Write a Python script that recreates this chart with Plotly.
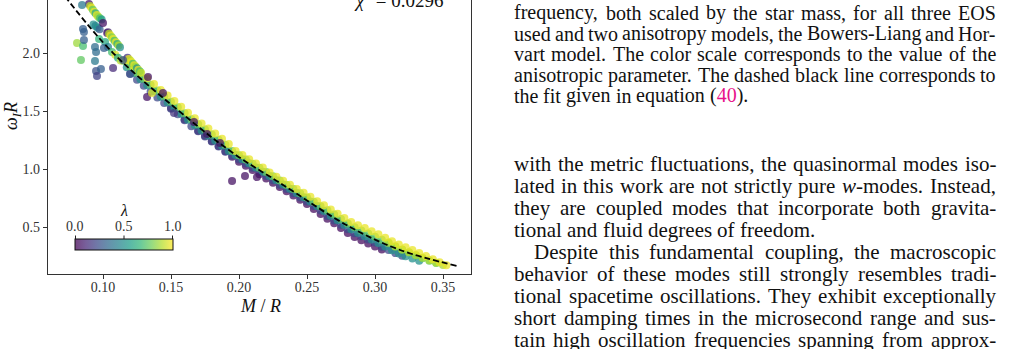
import plotly.graph_objects as go

# ------------------------------------------------------------------ data
# dashed fit line
fit_mr = [0.0720, 0.1074, 0.1640, 0.1956, 0.2301, 0.2816, 0.3184, 0.3603]
fit_om = [2.489, 2.000, 1.422, 1.138, 0.880, 0.500, 0.302, 0.164]

# band rows, grouped by anisotropy value
lam_purple = 0.03
mr_purple = [0.150, 0.160, 0.170, 0.175, 0.180, 0.185, 0.190, 0.195,
             0.200, 0.205, 0.210, 0.215, 0.220, 0.225, 0.230, 0.235, 0.240, 0.245, 0.250,
             0.255, 0.260, 0.265, 0.270, 0.275, 0.280, 0.285, 0.290, 0.295, 0.300, 0.305]
om_purple = [1.525, 1.426, 1.330, 1.286, 1.242, 1.198, 1.154, 1.105,
             1.063, 1.027, 0.991, 0.955, 0.919, 0.882, 0.845, 0.808, 0.772, 0.735, 0.699,
             0.655, 0.613, 0.572, 0.532, 0.491, 0.449, 0.414, 0.385, 0.358, 0.331, 0.306]

lam_blue = 0.22
mr_blue = [0.120, 0.125, 0.130, 0.135, 0.140, 0.145, 0.150, 0.155, 0.160, 0.165,
           0.170, 0.175, 0.180, 0.185, 0.190, 0.195, 0.200, 0.205, 0.210, 0.215,
           0.220, 0.225, 0.230, 0.235, 0.240, 0.245, 0.250, 0.255, 0.260, 0.265,
           0.270, 0.275, 0.280, 0.285, 0.290, 0.295, 0.300, 0.305, 0.310, 0.315, 0.320]
om_blue = [1.821, 1.769, 1.718, 1.667, 1.617, 1.568, 1.520, 1.473, 1.421, 1.369,
           1.325, 1.281, 1.237, 1.193, 1.149, 1.115, 1.083, 1.047, 1.011, 0.975,
           0.939, 0.902, 0.865, 0.828, 0.792, 0.755, 0.719, 0.682, 0.643, 0.595,
           0.557, 0.519, 0.480, 0.447, 0.420, 0.393, 0.366, 0.329, 0.302, 0.275, 0.252]

lam_teal = 0.50
mr_teal = [0.1175, 0.1225, 0.1275, 0.1325, 0.1375, 0.1425, 0.1475, 0.1525, 0.1575, 0.1625,
           0.1675, 0.1725, 0.1775, 0.1825, 0.1875, 0.1925, 0.1975, 0.2025, 0.2075, 0.2125,
           0.2175, 0.2225, 0.2275, 0.2325, 0.2375, 0.2425, 0.2475, 0.2525, 0.2575, 0.2625,
           0.2675, 0.2725, 0.2775, 0.2825, 0.2875, 0.2925, 0.2975, 0.3025, 0.3075, 0.3125,
           0.3175, 0.3225, 0.3275, 0.3325]
om_teal = [1.877, 1.825, 1.773, 1.722, 1.672, 1.622, 1.574, 1.526, 1.477, 1.425,
           1.377, 1.333, 1.289, 1.245, 1.201, 1.155, 1.121, 1.085, 1.049, 1.013,
           0.977, 0.940, 0.903, 0.866, 0.830, 0.793, 0.757, 0.720, 0.682, 0.639,
           0.598, 0.558, 0.518, 0.481, 0.450, 0.421, 0.392, 0.362, 0.332, 0.300,
           0.272, 0.248, 0.228, 0.208]

lam_green = 0.75
mr_green = [0.115, 0.120, 0.125, 0.130, 0.135, 0.140, 0.145, 0.150, 0.155, 0.160,
            0.165, 0.170, 0.175, 0.180, 0.185, 0.190, 0.195, 0.200, 0.205, 0.210,
            0.215, 0.220, 0.225, 0.230, 0.235, 0.240, 0.245, 0.250, 0.255, 0.260,
            0.265, 0.270, 0.275, 0.280, 0.285, 0.290, 0.295, 0.300, 0.305, 0.310,
            0.315, 0.320, 0.325, 0.330, 0.335, 0.340, 0.345]
om_green = [1.933, 1.881, 1.829, 1.778, 1.727, 1.677, 1.628, 1.580, 1.533, 1.481,
            1.429, 1.385, 1.341, 1.297, 1.253, 1.209, 1.155, 1.118, 1.082, 1.046,
            1.010, 0.974, 0.937, 0.900, 0.863, 0.827, 0.790, 0.754, 0.717, 0.678,
            0.645, 0.607, 0.569, 0.530, 0.497, 0.470, 0.443, 0.416, 0.389, 0.360,
            0.330, 0.303, 0.280, 0.255, 0.230, 0.208, 0.190]

lam_lime = 0.87
mr_lime = [0.310, 0.315, 0.320, 0.325, 0.330, 0.335, 0.340, 0.345, 0.350]
om_lime = [0.367, 0.335, 0.307, 0.283, 0.259, 0.235, 0.213, 0.192, 0.172]

lam_yellow = 0.97
mr_yellow = [0.1175, 0.1225, 0.1275, 0.1325, 0.1375, 0.1425, 0.1475, 0.1525, 0.1575, 0.1625,
             0.1675, 0.1725, 0.1775, 0.1825, 0.1875, 0.1925, 0.1975, 0.2025, 0.2075, 0.2125,
             0.2175, 0.2225, 0.2275, 0.2325, 0.2375, 0.2425, 0.2475, 0.2525, 0.2575, 0.2625,
             0.2675, 0.2725, 0.2775, 0.2825, 0.2875, 0.2925, 0.2975, 0.3025, 0.3075, 0.3125,
             0.3175, 0.3225, 0.3275, 0.3325, 0.3375, 0.3425, 0.3475, 0.3525]
om_yellow = [1.937, 1.885, 1.833, 1.782, 1.732, 1.682, 1.634, 1.586, 1.537, 1.485,
             1.437, 1.393, 1.349, 1.305, 1.261, 1.215, 1.156, 1.120, 1.084, 1.048,
             1.012, 0.970, 0.933, 0.899, 0.865, 0.828, 0.795, 0.760, 0.722, 0.687,
             0.651, 0.615, 0.578, 0.544, 0.516, 0.491, 0.464, 0.437, 0.408, 0.378,
             0.350, 0.326, 0.302, 0.275, 0.249, 0.222, 0.196, 0.170]

# upper-left streaks and scattered points: (M/R, omega_I R, lambda)
mr_extra = [0.0897, 0.0905, 0.0915, 0.0925, 0.0935, 0.0945, 0.0955, 0.0965, 0.0978, 0.0990,
            0.0930, 0.0945, 0.0960, 0.0975, 0.1000, 0.1030,
            0.1015, 0.1037, 0.1066, 0.1090, 0.1110, 0.1130,
            0.1037, 0.1045, 0.1055, 0.1065, 0.1075, 0.1085, 0.1095, 0.1105, 0.1115, 0.1125,
            0.1180, 0.1190, 0.1200, 0.1210, 0.1220, 0.1230, 0.1240, 0.1250, 0.1260, 0.1270, 0.1280,
            0.0846, 0.0853, 0.0860, 0.0809, 0.0853, 0.0838, 0.0860, 0.0941, 0.0949, 0.0941,
            0.0949, 0.0985, 0.0956, 0.1007, 0.1074, 0.0971,
            0.1147, 0.1199, 0.1331, 0.1324, 0.1441, 0.1669, 0.1765, 0.1860, 0.1522, 0.1360,
            0.1949, 0.2044, 0.2132]
om_extra = [2.422, 2.405, 2.390, 2.372, 2.356, 2.342, 2.327, 2.313, 2.300, 2.288,
            2.245, 2.232, 2.218, 2.205, 2.259, 2.172,
            2.095, 2.052, 2.009, 1.985, 1.960, 1.935,
            2.180, 2.165, 2.150, 2.135, 2.120, 2.106, 2.092, 2.078, 2.064, 2.050,
            1.960, 1.948, 1.936, 1.922, 1.908, 1.895, 1.882, 1.868, 1.855, 1.842, 1.830,
            2.414, 2.207, 2.181, 2.086, 2.060, 1.940, 2.112, 2.052, 2.009, 1.931,
            1.845, 1.862, 1.802, 2.043, 1.871, 2.121,
            1.940, 1.819, 1.793, 1.621, 1.655, 1.405, 1.302, 1.224, 1.483, 1.655,
            0.897, 0.940, 0.930]
lam_extra = [0.05, 0.90, 0.97, 0.75, 0.97, 0.60, 0.97, 0.85, 0.70, 0.55,
             0.50, 0.45, 0.50, 0.30, 0.05, 0.08,
             0.60, 0.45, 0.70, 0.95, 0.60, 0.90,
             0.10, 0.90, 0.97, 0.80, 0.97, 0.70, 0.97, 0.60, 0.90, 0.50,
             0.15, 0.97, 0.90, 0.97, 0.70, 0.97, 0.85, 0.50, 0.97, 0.70, 0.90,
             0.40, 0.30, 0.30, 0.85, 0.70, 0.75, 0.30, 0.35, 0.35, 0.40,
             0.25, 0.30, 0.20, 0.30, 0.12, 0.65,
             0.25, 0.25, 0.05, 0.05, 0.05, 0.05, 0.05, 0.05, 0.15, 0.95,
             0.05, 0.05, 0.05]

x_ticks = [0.10, 0.15, 0.20, 0.25, 0.30, 0.35]
x_tick_labels = ["0.10", "0.15", "0.20", "0.25", "0.30", "0.35"]
y_ticks = [0.5, 1.0, 1.5, 2.0]
y_tick_labels = ["0.5", "1.0", "1.5", "2.0"]
cbar_ticks = ["0.0", "0.5", "1.0"]
chi2_text = "0.0296"

caption_lines = [
    "frequency, both scaled by the star mass, for all three EOS",
    "used and two anisotropy models, the Bowers-Liang and Hor-",
    "vart model. The color scale corresponds to the value of the",
    "anisotropic parameter. The dashed black line corresponds to",
    "the fit given in equation (40).",
]
body_lines = [
    "with the metric fluctuations, the quasinormal modes iso-",
    "lated in this work are not strictly pure w-modes. Instead,",
    "they are coupled modes that incorporate both gravita-",
    "tional and fluid degrees of freedom.",
    "Despite this fundamental coupling, the macroscopic",
    "behavior of these modes still strongly resembles tradi-",
    "tional spacetime oscillations. They exhibit exceptionally",
    "short damping times in the microsecond range and sus-",
    "tain high oscillation frequencies spanning from approx-",
]

# ------------------------------------------------------------------ layout helpers
W, H = 1010, 349
ML, MRG, MT, MB = 48, 539, 0, 75
PW, PH = W - ML - MRG, H - MT - MB


def fx(px):
    return (px - ML) / PW


def fy(py):
    return (PH + MT - py) / PH


SERIF = "Liberation Serif"
viridis = [(68, 1, 84), (72, 40, 120), (62, 73, 137), (49, 104, 142), (38, 130, 142),
           (31, 158, 137), (53, 183, 121), (110, 206, 88), (181, 222, 43), (253, 231, 37)]
ALPHA = 0.74
cscale = [[i / (len(viridis) - 1), "rgba(%d,%d,%d,%.2f)" % (c + (ALPHA,))]
          for i, c in enumerate(viridis)]

groups = [(mr_purple, om_purple, lam_purple), (mr_blue, om_blue, lam_blue),
          (mr_teal, om_teal, lam_teal), (mr_green, om_green, lam_green),
          (mr_lime, om_lime, lam_lime), (mr_yellow, om_yellow, lam_yellow)]
X, Y, C = [], [], []
for mx, my, lv in groups:
    X += mx
    Y += my
    C += [lv] * len(mx)
X += mr_extra
Y += om_extra
C += lam_extra

fig = go.Figure()
fig.add_trace(go.Scatter(
    x=X, y=Y, mode="markers",
    marker=dict(size=8, color=C, cmin=0, cmax=1, colorscale=cscale,
                line=dict(width=0),
                colorbar=dict(orientation="h", x=fx(124), xanchor="center",
                              y=fy(239), yanchor="top", len=98, lenmode="pixels",
                              thickness=11, thicknessmode="pixels", xpad=0, ypad=0,
                              outlinewidth=1, outlinecolor="#111", borderwidth=0,
                              showticklabels=False, ticks="")),
    hoverinfo="skip", showlegend=False))
fig.add_trace(go.Scatter(
    x=fit_mr, y=fit_om, mode="lines",
    line=dict(color="black", width=1.8, dash="6px,3px", shape="spline", smoothing=1.0),
    hoverinfo="skip", showlegend=False))

ann = []
# axis titles
ann.append(dict(text="<i>M</i> / <i>R</i>", x=fx(260), y=fy(306), xanchor="center",
                yanchor="middle", font=dict(family=SERIF, size=18, color="#111")))
ann.append(dict(text="<i>ω</i><sub><i>I</i></sub><i>R</i>", x=fx(12), y=fy(116),
                xanchor="center", yanchor="middle", textangle=-90,
                font=dict(family=SERIF, size=18, color="#111")))
# partially visible top y tick label
ann.append(dict(text="2.5", x=fx(43), y=fy(-5), xanchor="right", yanchor="middle",
                font=dict(family=SERIF, size=14, color="#333")))
# chi^2 label (mostly above the visible area)
ann.append(dict(text="<i>χ</i><sup>2</sup> = " + chi2_text, x=fx(445), y=fy(13),
                xanchor="right", yanchor="bottom",
                font=dict(family=SERIF, size=19, color="#111")))
# colorbar labels
for lab, px in zip(cbar_ticks, [75, 124, 173]):
    ann.append(dict(text=lab, x=fx(px), y=fy(226), xanchor="center", yanchor="middle",
                    font=dict(family=SERIF, size=14, color="#333")))
ann.append(dict(text="<i>λ</i>", x=fx(124), y=fy(210), xanchor="center", yanchor="middle",
                font=dict(family=SERIF, size=16, color="#111")))

shapes = []
for px in [75.5, 124, 172.5]:
    shapes.append(dict(type="line", xref="paper", yref="paper", x0=fx(px), x1=fx(px),
                       y0=fy(239), y1=fy(235.5), line=dict(color="#222", width=1)))

# ---- right-hand text column, justified word by word (Times metrics)
TNR = dict(zip("abcdefghijklmnopqrstuvwxyz",
               [444, 500, 444, 500, 444, 333, 500, 500, 278, 278, 500, 278, 778, 500, 500,
                500, 500, 333, 389, 278, 500, 500, 722, 500, 500, 444]))
TNR.update(dict(zip("ABCDEFGHIJKLMNOPQRSTUVWXYZ",
                    [722, 667, 667, 722, 611, 556, 722, 722, 333, 389, 722, 611, 889, 722,
                     722, 556, 722, 667, 556, 611, 722, 722, 944, 722, 722, 611])))
TNR.update({" ": 250, ",": 250, ".": 250, "-": 333, "(": 333, ")": 333})
for d in "0123456789":
    TNR[d] = 500

TEXT_L, TEXT_R = 513, 995
MIN_GAP = 4.2
SPECIAL = {"(40).": "(<span style=\"color:#e8118a\">40</span>).",
           "w-modes.": "<i>w</i>-modes."}


def em(s):
    return sum(TNR.get(ch, 500) for ch in s) / 1000.0


text_rows = []   # (text, baseline px, justified, indent px, font size)
b0 = 19.5
for i, t in enumerate(caption_lines):
    text_rows.append((t, b0 + 20.75 * i, i < len(caption_lines) - 1, 0, 20))
b1 = 171.2
for i, t in enumerate(body_lines):
    just = i not in (3,)
    text_rows.append((t, b1 + 22.0 * i, just, 20 if i == 4 else 0, 21))

for txt, base, just, indent, fs in text_rows:
    words = txt.split(" ")
    ems = [em(w) for w in words]
    x0 = TEXT_L + indent
    avail = TEXT_R - x0
    n = len(words)
    if just and n > 1:
        fs = min(fs, (avail - (n - 1) * MIN_GAP) / sum(ems))
        gap = (avail - sum(ems) * fs) / (n - 1)
    else:
        gap = 0.25 * fs
    xx = x0
    for w, e in zip(words, ems):
        ann.append(dict(text=SPECIAL.get(w, w), x=fx(xx), y=fy(base - 0.3375 * fs),
                        xanchor="left", yanchor="middle", borderpad=0,
                        font=dict(family=SERIF, size=fs, color="#111")))
        xx += e * fs + gap

for a in ann:
    a.setdefault("xref", "paper")
    a.setdefault("yref", "paper")
    a["showarrow"] = False

axis_common = dict(showgrid=False, zeroline=False, showline=True, linecolor="#333",
                   linewidth=1.2, ticks="outside", ticklen=4, tickwidth=1, tickcolor="#333",
                   tickfont=dict(family=SERIF, size=14, color="#333"))
fig.update_layout(
    width=W, height=H, margin=dict(l=ML, r=MRG, t=MT, b=MB, pad=0),
    paper_bgcolor="white", plot_bgcolor="white", showlegend=False,
    xaxis=dict(range=[0.05956, 0.37059], tickvals=x_ticks, ticktext=x_tick_labels,
               mirror=False, ticklabelstandoff=-4, **axis_common),
    yaxis=dict(range=[0.0948, 2.457], tickvals=y_ticks, ticktext=y_tick_labels,
               mirror=True, **axis_common),
    annotations=ann, shapes=shapes,
)
fig.write_html("out.html", config=dict(displayModeBar=False))
